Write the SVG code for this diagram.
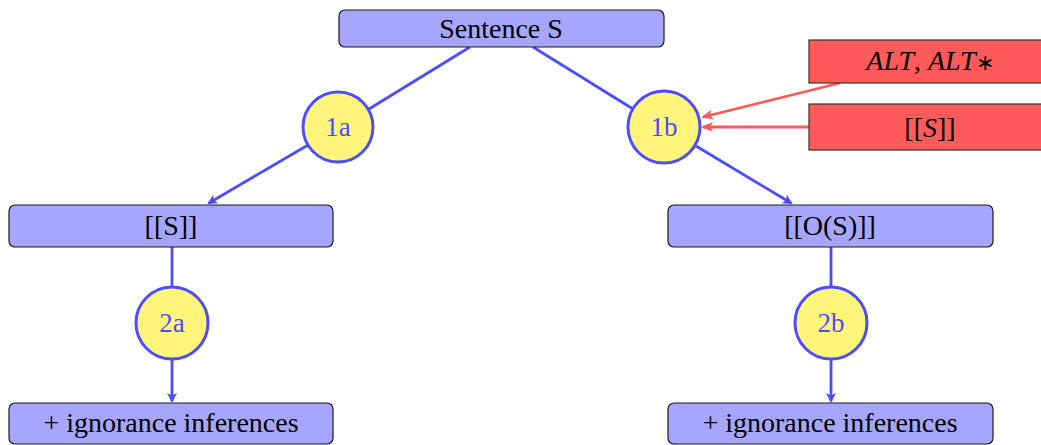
<svg xmlns="http://www.w3.org/2000/svg" width="1041" height="445" viewBox="0 0 1041 445">
<defs>
<marker id="ab" markerWidth="10" markerHeight="10" refX="8" refY="5" orient="auto" markerUnits="userSpaceOnUse"><path d="M0,0 L10,5 L0,10 L2.5,5 Z" fill="#4d4dff"/></marker>
<marker id="ar" markerWidth="12" markerHeight="10" refX="10" refY="5" orient="auto" markerUnits="userSpaceOnUse"><path d="M0,0 L12,5 L0,10 L3,5 Z" fill="#ff5a5a"/></marker>
</defs>
<style>
.box{fill:#a6a6ff;stroke:#1a1a1a;stroke-width:1.2}
.red{fill:#ff5a5a;stroke:#333;stroke-width:1.2}
.circ{fill:#fff57a;stroke:#4d4dff;stroke-width:3}
.t{font-family:'Liberation Serif',serif;font-size:28px;fill:#000;text-anchor:middle}
.ct{font-family:'Liberation Serif',serif;font-size:27px;fill:#4d4dff;text-anchor:middle}
.m{font-style:italic}
.ast{font-size:22px}
.bl{stroke:#4d4dff;stroke-width:2.8;fill:none}
.rl{stroke:#ff5a5a;stroke-width:2.8;fill:none}
</style>
<g id="connectors">
<line class="bl" x1="470" y1="47" x2="369" y2="109"/>
<line class="bl" x1="533" y1="47" x2="633" y2="109"/>
<line class="bl" x1="308" y1="145" x2="209" y2="203" marker-end="url(#ab)"/>
<line class="bl" x1="696" y1="146" x2="791" y2="203" marker-end="url(#ab)"/>
<line class="bl" x1="172" y1="247" x2="172" y2="287"/>
<line class="bl" x1="172" y1="359" x2="172" y2="401" marker-end="url(#ab)"/>
<line class="bl" x1="831" y1="247" x2="831" y2="287"/>
<line class="bl" x1="831" y1="359" x2="831" y2="401" marker-end="url(#ab)"/>
<line class="rl" x1="840" y1="83" x2="703" y2="117" marker-end="url(#ar)"/>
<line class="rl" x1="809" y1="127" x2="703" y2="127" marker-end="url(#ar)"/>
</g>
<g id="sentence"><rect class="box" x="339" y="10" width="325" height="37" rx="6"/><text class="t" x="501" y="38">Sentence S</text></g>
<g id="n1a"><circle class="circ" cx="338" cy="127" r="35"/><text class="ct" x="338" y="136">1a</text></g>
<g id="n1b"><circle class="circ" cx="664" cy="127" r="36"/><text class="ct" x="664" y="136">1b</text></g>
<g id="alt"><rect class="red" x="809" y="40" width="245" height="43"/><text class="t" x="930" y="70"><tspan class="m">ALT</tspan>, <tspan class="m">ALT</tspan><tspan class="ast">∗</tspan></text></g>
<g id="sbr"><rect class="red" x="809" y="104" width="245" height="46"/><text class="t" x="930" y="137">[[<tspan class="m">S</tspan>]]</text></g>
<g id="s"><rect class="box" x="9" y="205" width="324" height="42" rx="6"/><text class="t" x="171" y="235">[[S]]</text></g>
<g id="os"><rect class="box" x="668" y="205" width="325" height="42" rx="6"/><text class="t" x="830" y="235">[[O(S)]]</text></g>
<g id="n2a"><circle class="circ" cx="172" cy="323" r="36"/><text class="ct" x="172" y="332">2a</text></g>
<g id="n2b"><circle class="circ" cx="831" cy="323" r="36"/><text class="ct" x="831" y="332">2b</text></g>
<g id="ig1"><rect class="box" x="9" y="403" width="324" height="41" rx="6"/><text class="t" x="171" y="432">+ ignorance inferences</text></g>
<g id="ig2"><rect class="box" x="668" y="403" width="325" height="41" rx="6"/><text class="t" x="830" y="432">+ ignorance inferences</text></g>
</svg>
